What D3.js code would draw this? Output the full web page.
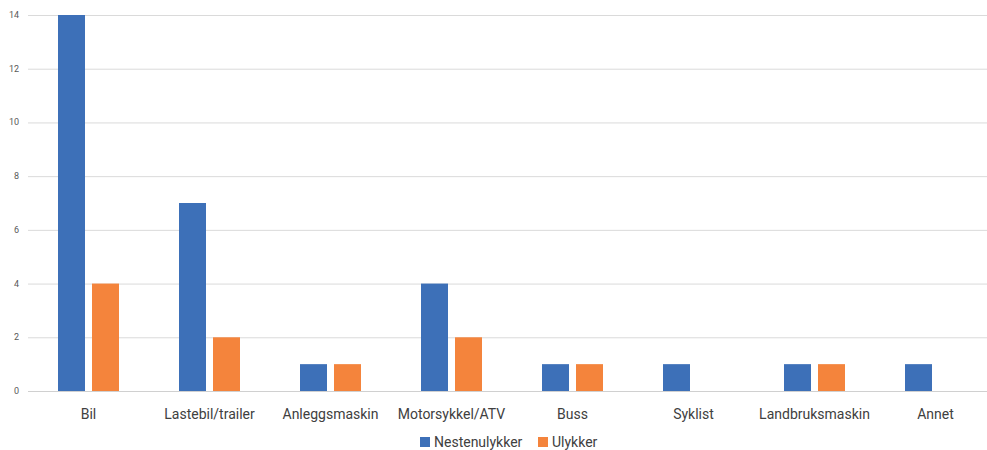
<!DOCTYPE html>
<html><head><meta charset="utf-8">
<script src="https://cdn.jsdelivr.net/npm/d3@7"></script>
<style>body{margin:0;background:#fff}svg{display:block}</style>
</head><body>
<script>
const categories = ["Bil","Lastebil/trailer","Anleggsmaskin","Motorsykkel/ATV","Buss","Syklist","Landbruksmaskin","Annet"];
const nestenulykker = [14,7,1,4,1,1,1,1];
const ulykker = [4,2,1,2,1,0,1,0];
const yTicks = [0,2,4,6,8,10,12,14];
const seriesNames = ["Nestenulykker","Ulykker"];
const colors = ["#3d70b8","#f4843c"];

const W=987,H=450;
const svg=d3.select("body").append("svg").attr("width",W).attr("height",H);
const x=d3.scaleBand().domain(categories).range([28,996]).paddingInner(0).paddingOuter(0);
const y=d3.scaleLinear().domain([0,14]).range([391,15]);
const half=x.bandwidth()/2;
const sub=d3.scaleBand().domain(seriesNames).range([half-30.5,half+30.5]).paddingInner(2-61/34).paddingOuter(0);

svg.append("g").selectAll("line").data(yTicks).join("line")
  .attr("x1",28).attr("x2",W).attr("y1",d=>y(d)+0.5).attr("y2",d=>y(d)+0.5)
  .attr("stroke",d=>d===0?"#d0d0d0":"#dadada").attr("stroke-width",1);
svg.append("g").selectAll("text").data(yTicks).join("text")
  .attr("x",19).attr("y",d=>y(d)+3).attr("text-anchor","end")
  .attr("font-family","Roboto, sans-serif").attr("font-size",9).attr("fill","#595959").text(d=>d);

const data=[nestenulykker,ulykker];
seriesNames.forEach((s,i)=>{
  svg.append("g").selectAll("rect").data(categories.map((c,j)=>({c,v:data[i][j]})).filter(d=>d.v>0)).join("rect")
    .attr("x",d=>x(d.c)+sub(s)).attr("width",sub.bandwidth())
    .attr("y",d=>y(d.v)).attr("height",d=>y(0)-y(d.v)).attr("fill",colors[i]);
});

svg.append("g").selectAll("text").data(categories).join("text")
  .attr("x",d=>x(d)+x.bandwidth()/2).attr("y",419).attr("text-anchor","middle")
  .attr("font-family","Roboto, sans-serif").attr("font-size",14).attr("fill","#404040").text(d=>d);

const lg=svg.append("g");
const lx=[420,538];
seriesNames.forEach((s,i)=>{
  lg.append("rect").attr("x",lx[i]).attr("y",437).attr("width",10).attr("height",10).attr("fill",colors[i]);
  lg.append("text").attr("x",lx[i]+14).attr("y",447).attr("font-family","Roboto, sans-serif")
    .attr("font-size",14).attr("fill","#404040").text(s);
});
</script>
</body></html>
